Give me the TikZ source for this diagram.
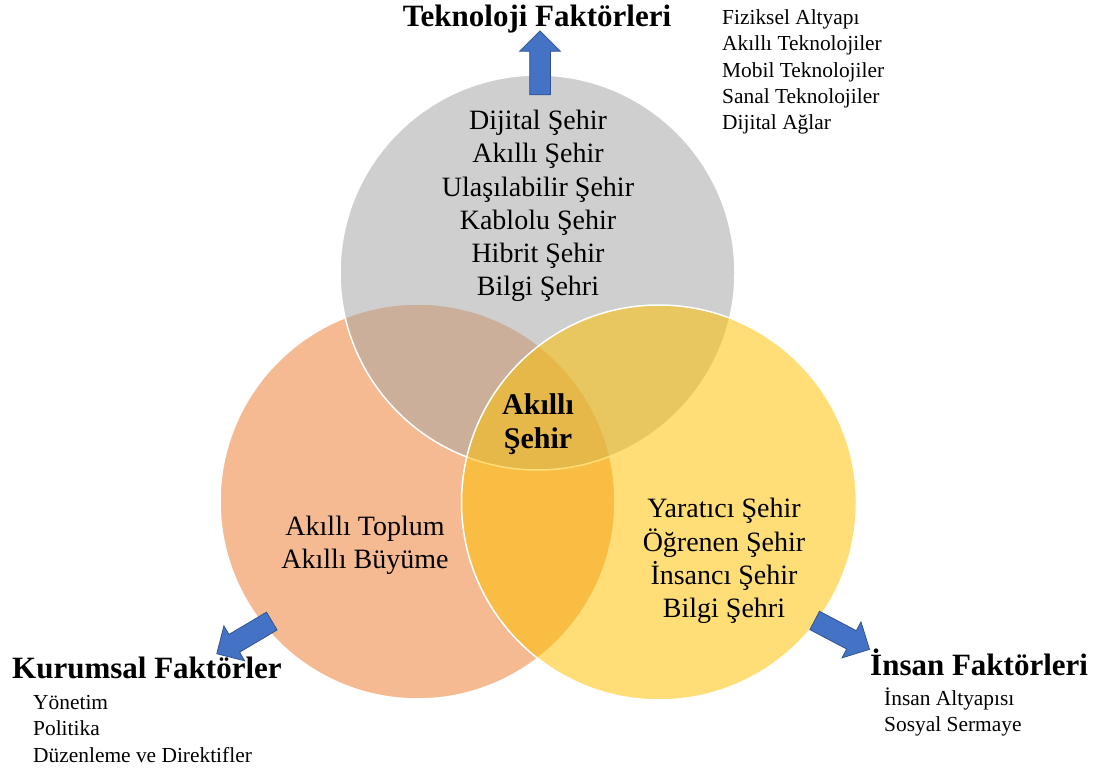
\documentclass[tikz,border=0pt]{standalone}
\usepackage{fontspec}
\setmainfont{Liberation Serif}
\usetikzlibrary{shapes.arrows}
\definecolor{kurumC}{HTML}{ED7D31}
\definecolor{teknoC}{HTML}{A5A5A5}
\definecolor{insanC}{HTML}{FFC000}
\definecolor{okBlue}{HTML}{4472C4}
\definecolor{okEdge}{HTML}{2F528F}
\begin{document}
\begin{tikzpicture}[x=1pt, y=1pt,
  ring/.style={circle, draw=white, line width=1.5pt, fill opacity=0.53, minimum size=395pt, inner sep=0pt},
  lbl/.style={align=center, inner sep=0pt, font=\fontsize{28}{33.3}\selectfont},
  baslik/.style={inner sep=0pt, font=\fontsize{31}{36}\selectfont\bfseries},
  liste/.style={align=left, inner sep=0pt, font=\fontsize{21.4}{26.3}\selectfont},
  ok/.style={single arrow, fill=okBlue, draw=okEdge, line width=0.75pt, inner xsep=0pt, inner ysep=10pt, minimum width=40pt, single arrow head extend=10pt, minimum height=64pt}
]
\useasboundingbox (0,0) rectangle (1094,771);
% daireler
\node[ring, fill=kurumC] (ku) at (417.5,269.5) {};
\node[ring, fill=teknoC] (te) at (537.5,498.5) {};
\node[ring, fill=insanC] (in) at (659,268.5) {};
% daire metinleri
\node[lbl] (teT) at (538,565) {Dijital Şehir\\Akıllı Şehir\\Ulaşılabilir Şehir\\Kablolu Şehir\\Hibrit Şehir\\Bilgi Şehri};
\node[lbl] (kuT) at (365,226) {Akıllı Toplum\\Akıllı Büyüme};
\node[lbl] (inT) at (724,210) {Yaratıcı Şehir\\Öğrenen Şehir\\İnsancı Şehir\\Bilgi Şehri};
\node[lbl, font=\fontsize{30}{34}\selectfont\bfseries] (mrk) at (538,347) {Akıllı\\Şehir};
% oklar
\node[ok, rotate=90] (teO) at (540,703) {};
\node[ok, rotate=210.7] (kuO) at (248.75,136.25) {};
\node[ok, rotate=-27.8, minimum height=62pt] (inO) at (837.5,138.5) {};
% basliklar
\node[baslik, anchor=base] (teB) at (537,744) {Teknoloji Faktörleri};
\node[baslik, anchor=base west] (kuB) at (12,93) {Kurumsal Faktörler};
\node[baslik, anchor=base west] (inB) at (870,96) {İnsan Faktörleri};
% listeler
\node[liste, anchor=west] (teL) at (722,699) {Fiziksel Altyapı\\Akıllı Teknolojiler\\Mobil Teknolojiler\\Sanal Teknolojiler\\Dijital Ağlar};
\node[liste, anchor=west] (kuL) at (33,42) {Yönetim\\Politika\\Düzenleme ve Direktifler};
\node[liste, anchor=west] (inL) at (884,59) {İnsan Altyapısı\\Sosyal Sermaye};
\end{tikzpicture}
\end{document}
